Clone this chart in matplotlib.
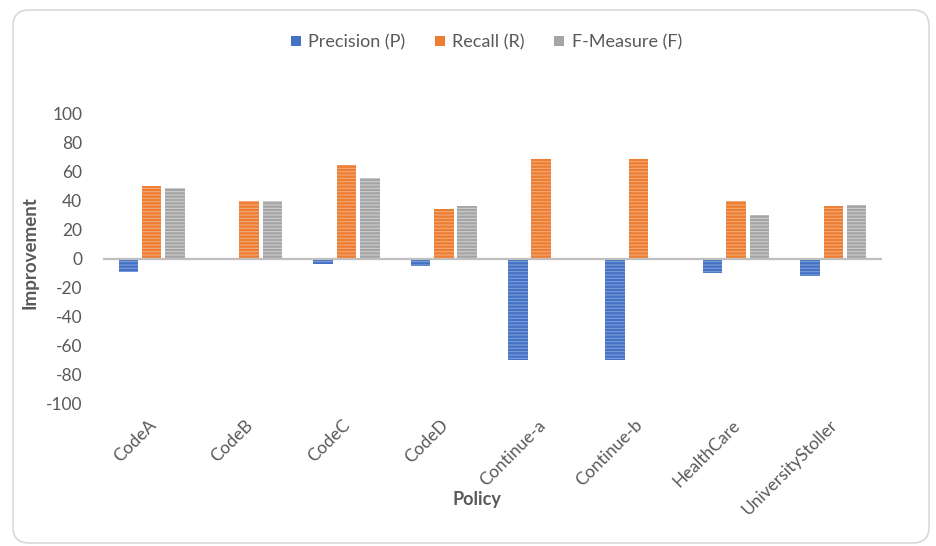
import matplotlib
matplotlib.use("Agg")
import matplotlib.pyplot as plt
import matplotlib.transforms as mtransforms
import numpy as np
from matplotlib.patches import FancyBboxPatch
from matplotlib.lines import Line2D

# Improvement per policy (percentage points)
categories = ["CodeA", "CodeB", "CodeC", "CodeD",
              "Continue-a", "Continue-b", "HealthCare", "UniversityStoller"]
precision = [-9, 0, -4, -5, -70, -70, -10, -12]
recall = [50, 40, 65, 34, 69, 69, 40, 36]
f_measure = [49, 40, 56, 36, 0, 0, 30, 37]
yticks = list(range(-100, 101, 20))

series_labels = ["Precision (P)", "Recall (R)", "F-Measure (F)"]
fill_colors = ["#4472C4", "#ED7D31", "#A5A5A5"]
stripe_colors = ["#86A3DC", "#F5AE80", "#D2D2D2"]

plt.rcParams["font.family"] = ["Lato", "DejaVu Sans"]
plt.rcParams["hatch.linewidth"] = 0.7

W, H, DPI = 937, 546, 100
text_gray = "#595959"

fig = plt.figure(figsize=(W / DPI, H / DPI), dpi=DPI)
fig.patch.set_facecolor("white")

# rounded chart-area frame
frame = FancyBboxPatch((13, 3), 916, 533, boxstyle="round,pad=0,rounding_size=16",
                       transform=None, facecolor="none", edgecolor="#D9D9D9",
                       linewidth=1.2, zorder=-10)
fig.patches.append(frame)

ax = fig.add_axes([103 / W, 1 - 403 / H, (882 - 103) / W, (403 - 114) / H])
ax.set_facecolor("none")

x = np.arange(len(categories))
width = 0.2
step = 0.24
for i, vals in enumerate([precision, recall, f_measure]):
    ax.bar(x + (i - 1) * step, vals, width, color=fill_colors[i],
           edgecolor=stripe_colors[i], linewidth=0, hatch="-----", zorder=2)

ax.axhline(0, color="#BFBFBF", linewidth=1.6, zorder=3)

ax.set_xlim(-0.5, len(categories) - 0.5)
ax.set_ylim(-100, 100)
for s in ax.spines.values():
    s.set_visible(False)

ax.set_yticks(yticks)
ax.set_yticklabels([str(v) for v in yticks])
ax.tick_params(axis="y", length=0, pad=15, labelsize=12.5, labelcolor=text_gray)

ax.set_xticks(x)
ax.set_xticklabels(categories, rotation=45, ha="right", va="top",
                   rotation_mode="anchor")
ax.tick_params(axis="x", length=0, pad=10, labelsize=12.5, labelcolor=text_gray)
shift = mtransforms.ScaledTranslation(-3 / 72, 0, fig.dpi_scale_trans)
for lbl in ax.get_xticklabels():
    lbl.set_transform(lbl.get_transform() + shift)

fig.text(30 / W, 1 - 253 / H, "Improvement", rotation=90, ha="center", va="center",
         fontsize=13.5, fontweight="bold", color=text_gray)
fig.text(477 / W, 1 - 499 / H, "Policy", ha="center", va="center",
         fontsize=13, fontweight="bold", color=text_gray)

handles = [Line2D([], [], linestyle="none", marker="s", markersize=6.5,
                  markerfacecolor=c, markeredgewidth=0) for c in fill_colors]
fig.legend(handles, series_labels, loc="center", ncol=3,
           bbox_to_anchor=(486 / W, 1 - 42 / H), frameon=False,
           fontsize=13, labelcolor=text_gray, handlelength=0.6,
           handletextpad=0.4, columnspacing=1.6)

fig.savefig("out.png", dpi=DPI)
